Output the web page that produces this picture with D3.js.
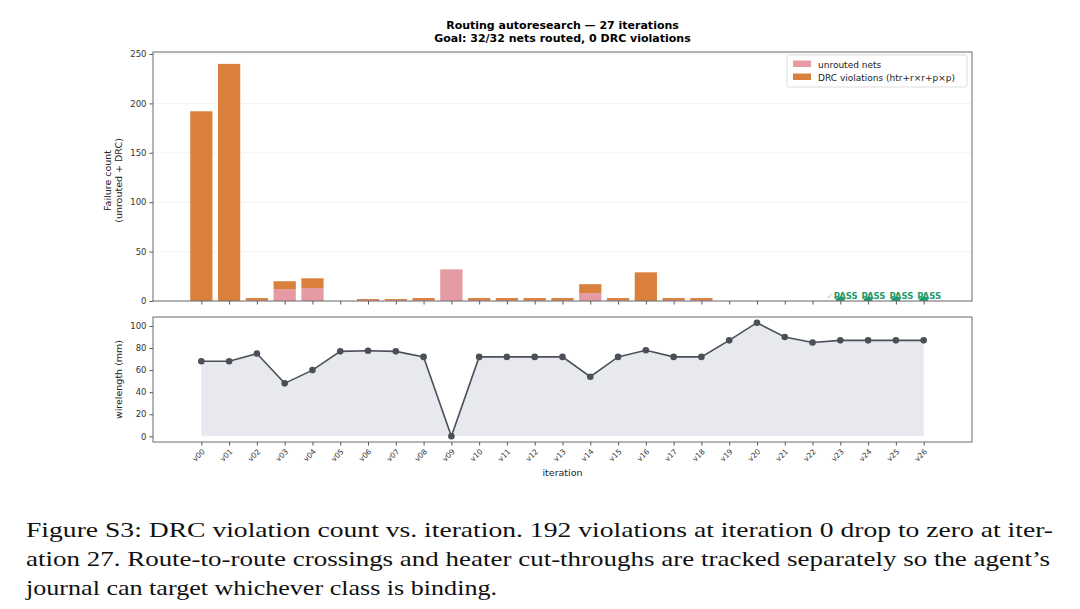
<!DOCTYPE html>
<html>
<head>
<meta charset="utf-8">
<script src="https://cdn.jsdelivr.net/npm/d3@7"></script>
<style>
  body { margin: 0; background: #fff; }
  svg { display: block; }
</style>
</head>
<body>
<div id="chart"></div>
<script>
// data
var iterations = ["v00","v01","v02","v03","v04","v05","v06","v07","v08","v09","v10","v11","v12","v13",
                  "v14","v15","v16","v17","v18","v19","v20","v21","v22","v23","v24","v25","v26"];
var unrouted   = [0, 0, 1, 12, 13, 0, 1, 1, 1, 32, 1, 1, 1, 1, 8, 1, 0, 1, 1, 0, 0, 0, 0, 0, 0, 0, 0];
var drc        = [192, 240, 2, 8, 10, 0, 1, 1, 2, 0, 2, 2, 2, 2, 9, 2, 29, 2, 2, 0, 0, 0, 0, 0, 0, 0, 0];
var passed     = [0, 0, 0, 0, 0, 0, 0, 0, 0, 0, 0, 0, 0, 0, 0, 0, 0, 0, 0, 0, 0, 0, 0, 1, 1, 1, 1];
var wirelength = [68, 68, 75, 48, 60, 77, 77.5, 77, 72, 0, 72, 72, 72, 72, 54, 72, 78, 72, 72, 87, 103, 90, 85, 87, 87, 87, 87];
var failTicks  = [0, 50, 100, 150, 200, 250];
var wireTicks  = [0, 20, 40, 60, 80, 100];
var captionLines = [
  "Figure S3: DRC violation count vs. iteration.  192 violations at iteration 0 drop to zero at iter-",
  "ation 27. Route-to-route crossings and heater cut-throughs are tracked separately so the agent\u2019s",
  "journal can target whichever class is binding."
];

var W = 1080, H = 609;
var left = 153, right = 972;
var top1 = 52, bot1 = 301, top2 = 317, bot2 = 442;
var pink = "#e69aa3", orange = "#d9803c", green = "#1f9a6c";

var svg = d3.select("#chart").append("svg")
  .attr("width", W).attr("height", H)
  .style("font-family", "DejaVu Sans, sans-serif");

var x = d3.scaleLinear().domain([-1.74, 27.74]).range([left, right]);
var y1 = d3.scaleLinear().domain([0, 252]).range([bot1, top1]);
var y2 = d3.scaleLinear().domain([-5.15, 108.15]).range([bot2, top2]);
var bw = x(0.8) - x(0);

// titles
svg.append("text").attr("x", (left + right) / 2).attr("y", 29)
  .attr("text-anchor", "middle").attr("font-size", 11).attr("font-weight", "bold")
  .text("Routing autoresearch \u2014 27 iterations");
svg.append("text").attr("x", (left + right) / 2).attr("y", 41.5)
  .attr("text-anchor", "middle").attr("font-size", 11).attr("font-weight", "bold")
  .text("Goal: 32/32 nets routed, 0 DRC violations");

// ---- top panel: failure counts
var g1 = svg.append("g");
g1.selectAll("line.grid").data(failTicks).enter().append("line")
  .attr("x1", left).attr("x2", right)
  .attr("y1", d => y1(d)).attr("y2", d => y1(d))
  .attr("stroke", "#f3f3f3");

g1.selectAll("rect.un").data(unrouted).enter().append("rect")
  .attr("x", (d, i) => x(i) - bw / 2).attr("width", bw)
  .attr("y", d => y1(d)).attr("height", d => y1(0) - y1(d))
  .attr("fill", pink);

g1.selectAll("rect.drc").data(drc).enter().append("rect")
  .attr("x", (d, i) => x(i) - bw / 2).attr("width", bw)
  .attr("y", (d, i) => y1(d + unrouted[i])).attr("height", d => y1(0) - y1(d))
  .attr("fill", orange);

svg.append("clipPath").attr("id", "clip1").append("rect")
  .attr("x", left).attr("y", top1).attr("width", right - left).attr("height", bot1 - top1);

var passIdx = passed.map((p, i) => p ? i : -1).filter(i => i >= 0);
g1.append("g").attr("clip-path", "url(#clip1)")
  .selectAll("circle").data(passIdx).enter().append("circle")
  .attr("cx", d => x(d)).attr("cy", y1(0)).attr("r", 4.5)
  .attr("fill", green);

// "✓ PASS" labels: the tick of later labels sits under the previous one, so only the first shows it
g1.selectAll("text.pass").data(passIdx).enter().append("text")
  .attr("x", d => x(d) - 6.5).attr("y", y1(0) - 2.5)
  .attr("font-size", 8.5).attr("font-weight", "bold")
  .attr("fill", green).text("PASS");
g1.append("text").attr("x", x(passIdx[0]) - 14).attr("y", y1(0) - 2.5)
  .attr("font-size", 8).attr("fill", "#a9c4b8").text("\u2713");

g1.append("g").attr("transform", "translate(0," + bot1 + ")")
  .call(d3.axisBottom(x).tickValues(d3.range(iterations.length)).tickFormat("").tickSize(3.5));
g1.append("g").attr("transform", "translate(" + left + ",0)")
  .call(d3.axisLeft(y1).tickValues(failTicks).tickSize(3.5));

g1.append("rect").attr("x", left).attr("y", top1)
  .attr("width", right - left).attr("height", bot1 - top1)
  .attr("fill", "none").attr("stroke", "#6a6a6a").attr("stroke-width", 1);

var yl = g1.append("text").attr("transform", "translate(111," + ((top1 + bot1) / 2 + 4) + ") rotate(-90)")
  .attr("text-anchor", "middle").attr("font-size", 9.5).attr("fill", "#222");
yl.append("tspan").attr("x", 0).attr("dy", 0).text("Failure count");
yl.append("tspan").attr("x", 0).attr("dy", 11).text("(unrouted + DRC)");

// legend
var lg = g1.append("g").attr("transform", "translate(787,55)");
lg.append("rect").attr("width", 180).attr("height", 32).attr("rx", 2)
  .attr("fill", "#fff").attr("stroke", "#dddddd");
var legendItems = [{label: "unrouted nets", color: pink}, {label: "DRC violations (htr+r\u00d7r+p\u00d7p)", color: orange}];
legendItems.forEach(function (it, i) {
  lg.append("rect").attr("x", 6).attr("y", 5.5 + i * 13).attr("width", 18).attr("height", 6.5).attr("fill", it.color);
  lg.append("text").attr("x", 31).attr("y", 12.5 + i * 13).attr("font-size", 9).attr("fill", "#222").text(it.label);
});

// ---- bottom panel: wirelength
var g2 = svg.append("g");
var area = d3.area().x((d, i) => x(i)).y0(y2(0)).y1(d => y2(d));
var line = d3.line().x((d, i) => x(i)).y(d => y2(d));

g2.append("path").datum(wirelength).attr("d", area).attr("fill", "#e7e9ef");
g2.append("path").datum(wirelength).attr("d", line)
  .attr("fill", "none").attr("stroke", "#4b5057").attr("stroke-width", 1.6);
g2.selectAll("circle").data(wirelength).enter().append("circle")
  .attr("cx", (d, i) => x(i)).attr("cy", d => y2(d)).attr("r", 3.3)
  .attr("fill", "#4b5057");

var xa = g2.append("g").attr("transform", "translate(0," + bot2 + ")")
  .call(d3.axisBottom(x).tickValues(d3.range(iterations.length))
    .tickFormat(i => iterations[i]).tickSize(3.5));
xa.selectAll("text")
  .attr("font-size", 7.5)
  .attr("text-anchor", "middle")
  .attr("dy", 0).attr("y", 0)
  .attr("transform", "translate(-1.5,15) rotate(-45)");

g2.append("g").attr("transform", "translate(" + left + ",0)")
  .call(d3.axisLeft(y2).tickValues(wireTicks).tickSize(3.5));

g2.append("rect").attr("x", left).attr("y", top2)
  .attr("width", right - left).attr("height", bot2 - top2)
  .attr("fill", "none").attr("stroke", "#6a6a6a").attr("stroke-width", 1);

g2.append("text").attr("transform", "translate(122," + (top2 + bot2) / 2 + ") rotate(-90)")
  .attr("text-anchor", "middle").attr("font-size", 9.5).attr("fill", "#222")
  .text("wirelength (mm)");
g2.append("text").attr("x", (left + right) / 2).attr("y", 476)
  .attr("text-anchor", "middle").attr("font-size", 9.5).attr("fill", "#222")
  .text("iteration");

// axis styling
svg.selectAll(".domain").remove();
svg.selectAll(".tick line").attr("stroke", "#555");
svg.selectAll(".tick text").attr("fill", "#333").style("font-family", "DejaVu Sans, sans-serif");
svg.selectAll("g > g.tick text").filter(function () { return !this.getAttribute("transform"); })
  .attr("font-size", 8.5);

// caption
var cap = svg.append("g").style("font-family", "Liberation Serif, serif").attr("font-size", 22).attr("fill", "#111");
var capWidths = [1027, 1024, 471];
captionLines.forEach(function (t, i) {
  cap.append("text").attr("x", 26).attr("y", 537 + i * 29)
    .attr("textLength", capWidths[i]).attr("lengthAdjust", "spacingAndGlyphs")
    .text(t);
});
</script>
</body>
</html>
